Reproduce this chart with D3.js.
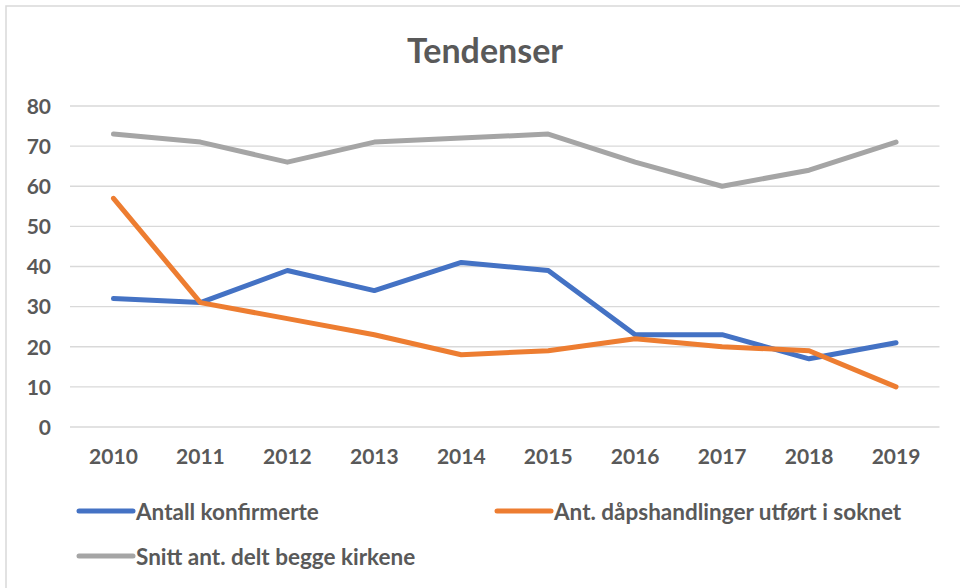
<!DOCTYPE html>
<html>
<head>
<meta charset="utf-8">
<script src="https://cdn.jsdelivr.net/npm/d3@7"></script>
<style>
  html, body { margin: 0; padding: 0; background: #fff; }
  svg { display: block; }
  text { font-family: Lato, "Open Sans", sans-serif; font-weight: bold; fill: #595959; }
</style>
</head>
<body>
<svg id="chart" width="960" height="588"></svg>
<script>
const title = "Tendenser";
const years = ["2010","2011","2012","2013","2014","2015","2016","2017","2018","2019"];
const konfirmerte = [32, 31, 39, 34, 41, 39, 23, 23, 17, 21];
const dapshandlinger = [57, 31, 27, 23, 18, 19, 22, 20, 19, 10];
const snitt = [73, 71, 66, 71, 72, 73, 66, 60, 64, 71];
const yTicks = [0, 10, 20, 30, 40, 50, 60, 70, 80];
const seriesNames = ["Antall konfirmerte", "Ant. dåpshandlinger utført i soknet", "Snitt ant. delt begge kirkene"];
const seriesColors = ["#4472c4", "#ed7d31", "#a5a5a5"];

const series = [konfirmerte, dapshandlinger, snitt].map((vals, i) => ({
  name: seriesNames[i], color: seriesColors[i],
  points: vals.map((v, j) => ({ year: years[j], value: v }))
}));

const svg = d3.select("#chart");

// outer chart border
svg.append("rect")
  .attr("x", 6).attr("y", 6).attr("width", 1000).attr("height", 1000)
  .attr("fill", "none").attr("stroke", "#d9d9d9").attr("stroke-width", 1.5);

const x = d3.scaleBand().domain(years).range([70, 939.5]);
const y = d3.scaleLinear().domain([0, 80]).range([427, 106]);

// gridlines
svg.append("g").selectAll("line").data(yTicks).join("line")
  .attr("x1", 70).attr("x2", 939.5)
  .attr("y1", d => y(d)).attr("y2", d => y(d))
  .attr("stroke", "#d9d9d9").attr("stroke-width", 1.3);

// y axis labels
const yAxis = d3.axisLeft(y).tickValues(yTicks).tickSize(0).tickPadding(0);
const gy = svg.append("g").attr("transform", "translate(51,0)").call(yAxis);
gy.select(".domain").remove();
gy.selectAll("text").style("font-size", "21px").attr("dy", "0.35em").attr("fill", "#595959");

// x axis labels
const xAxis = d3.axisBottom(x).tickSize(0).tickPadding(0);
const gx = svg.append("g").attr("transform", "translate(0,449)").call(xAxis);
gx.select(".domain").remove();
gx.selectAll("text").style("font-size", "21px").attr("dy", "0.71em").attr("fill", "#595959");

// title
svg.append("text").attr("x", 485).attr("y", 63).attr("text-anchor", "middle")
  .style("font-size", "34px").text(title);

// lines
const line = d3.line()
  .x(d => x(d.year) + x.bandwidth() / 2)
  .y(d => y(d.value));

svg.append("g").selectAll("path").data(series).join("path")
  .attr("d", d => line(d.points))
  .attr("fill", "none")
  .attr("stroke", d => d.color)
  .attr("stroke-width", 5)
  .attr("stroke-linecap", "round")
  .attr("stroke-linejoin", "round");

// legend
const legendPos = [[79, 511], [497, 511], [79, 556]];
const lg = svg.append("g").selectAll("g").data(series).join("g")
  .attr("transform", (d, i) => `translate(${legendPos[i][0]},${legendPos[i][1]})`);
lg.append("line").attr("x1", 0).attr("x2", 54).attr("y1", 0).attr("y2", 0)
  .attr("stroke", d => d.color).attr("stroke-width", 5).attr("stroke-linecap", "round");
lg.append("text").attr("x", 57).attr("y", 8.5).style("font-size", "22.5px").text(d => d.name);
</script>
</body>
</html>
